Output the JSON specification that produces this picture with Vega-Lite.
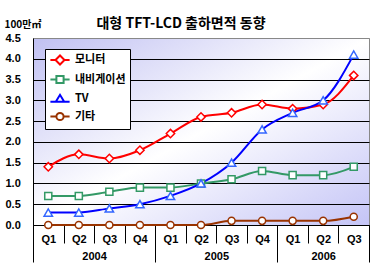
{
  "$schema": "https://vega.github.io/schema/vega-lite/v6.json",
  "autosize": "none",
  "width": 336,
  "height": 187,
  "padding": {"left": 33, "top": 38, "right": 16, "bottom": 45},
  "background": "white",
  "title": {"text": "대형 TFT-LCD 출하면적 동향", "fontSize": 14, "fontWeight": "bold", "font": "Noto Sans CJK KR", "color": "black", "offset": 10, "dx": -20, "dy": 22},
  "config": {
    "view": {"stroke": "#888888", "strokeWidth": 1, "fill": {"gradient": "linear", "x1": 0, "y1": 0, "x2": 1, "y2": 1, "stops": [{"offset": 0, "color": "#c0c0f2"}, {"offset": 0.5, "color": "#ffffff"}, {"offset": 1, "color": "#c4c4f6"}]}},
    "axis": {"labelFont": "Liberation Sans", "labelFontWeight": "bold", "labelFontSize": 11, "labelColor": "black", "titleColor": "black"}
  },
  "resolve": {"scale": {"x": "independent"}, "axis": {"x": "independent"}},
  "layer": [
    {
      "data": {"values": [
        {"q": "2004-Q1", "s": "모니터", "v": 1.4}, {"q": "2004-Q2", "s": "모니터", "v": 1.7}, {"q": "2004-Q3", "s": "모니터", "v": 1.6}, {"q": "2004-Q4", "s": "모니터", "v": 1.8},
        {"q": "2005-Q1", "s": "모니터", "v": 2.2}, {"q": "2005-Q2", "s": "모니터", "v": 2.6}, {"q": "2005-Q3", "s": "모니터", "v": 2.7}, {"q": "2005-Q4", "s": "모니터", "v": 2.9},
        {"q": "2006-Q1", "s": "모니터", "v": 2.8}, {"q": "2006-Q2", "s": "모니터", "v": 2.9}, {"q": "2006-Q3", "s": "모니터", "v": 3.6},
        {"q": "2004-Q1", "s": "내비게이션", "v": 0.7}, {"q": "2004-Q2", "s": "내비게이션", "v": 0.7}, {"q": "2004-Q3", "s": "내비게이션", "v": 0.8}, {"q": "2004-Q4", "s": "내비게이션", "v": 0.9},
        {"q": "2005-Q1", "s": "내비게이션", "v": 0.9}, {"q": "2005-Q2", "s": "내비게이션", "v": 1.0}, {"q": "2005-Q3", "s": "내비게이션", "v": 1.1}, {"q": "2005-Q4", "s": "내비게이션", "v": 1.3},
        {"q": "2006-Q1", "s": "내비게이션", "v": 1.2}, {"q": "2006-Q2", "s": "내비게이션", "v": 1.2}, {"q": "2006-Q3", "s": "내비게이션", "v": 1.4},
        {"q": "2004-Q1", "s": "TV", "v": 0.3}, {"q": "2004-Q2", "s": "TV", "v": 0.3}, {"q": "2004-Q3", "s": "TV", "v": 0.4}, {"q": "2004-Q4", "s": "TV", "v": 0.5},
        {"q": "2005-Q1", "s": "TV", "v": 0.7}, {"q": "2005-Q2", "s": "TV", "v": 1.0}, {"q": "2005-Q3", "s": "TV", "v": 1.5}, {"q": "2005-Q4", "s": "TV", "v": 2.3},
        {"q": "2006-Q1", "s": "TV", "v": 2.7}, {"q": "2006-Q2", "s": "TV", "v": 3.0}, {"q": "2006-Q3", "s": "TV", "v": 4.1},
        {"q": "2004-Q1", "s": "기타", "v": 0.0}, {"q": "2004-Q2", "s": "기타", "v": 0.0}, {"q": "2004-Q3", "s": "기타", "v": 0.0}, {"q": "2004-Q4", "s": "기타", "v": 0.0},
        {"q": "2005-Q1", "s": "기타", "v": 0.0}, {"q": "2005-Q2", "s": "기타", "v": 0.0}, {"q": "2005-Q3", "s": "기타", "v": 0.1}, {"q": "2005-Q4", "s": "기타", "v": 0.1},
        {"q": "2006-Q1", "s": "기타", "v": 0.1}, {"q": "2006-Q2", "s": "기타", "v": 0.1}, {"q": "2006-Q3", "s": "기타", "v": 0.2}
      ]},
      "encoding": {
        "x": {"field": "q", "type": "nominal", "scale": {"paddingInner": 0, "paddingOuter": 0},
          "axis": {"title": null, "labelAngle": 0, "labelExpr": "split(datum.label, '-')[1]", "tickBand": "extent", "tickSize": 18, "tickColor": "black", "domainColor": "black", "labelPadding": -10, "labelBaseline": "top", "grid": false}},
        "y": {"field": "v", "type": "quantitative", "scale": {"domain": [0, 4.5], "nice": false},
          "axis": {"values": [0, 0.5, 1, 1.5, 2, 2.5, 3, 3.5, 4, 4.5], "format": ".1f", "ticks": false, "labelAlign": "left", "labelPadding": 28, "labelBaseline": "middle",
            "grid": true, "gridColor": {"expr": "datum.value == 4.5 ? '#888888' : 'black'"}, "gridOpacity": 1, "gridWidth": 1, "domain": true, "domainColor": "black",
            "title": "100만㎡", "titleAngle": 0, "titleAlign": "left", "titleBaseline": "alphabetic", "titleX": -29, "titleY": -11, "titleFont": "Noto Sans CJK KR", "titleFontSize": 10, "titleFontWeight": "bold"}}
      },
      "layer": [
        {"mark": {"type": "line", "interpolate": "monotone", "strokeWidth": 2},
          "encoding": {"color": {"field": "s", "type": "nominal",
            "scale": {"domain": ["모니터", "내비게이션", "TV", "기타"], "range": ["#ff0000", "#339966", "#0000ff", "#993300"]},
            "legend": {"title": null, "orient": "none", "legendX": 12, "legendY": 11, "fillColor": "white", "strokeColor": "black", "padding": 4, "rowPadding": 2.5,
              "labelFont": "Noto Sans CJK KR", "labelFontSize": 11, "labelFontWeight": "bold", "labelColor": "black", "symbolSize": 144, "symbolStrokeWidth": 2, "labelOffset": 8, "symbolOffset": 4,
              "encode": {"symbols": {"update": {"fill": {"value": "white"}, "strokeWidth": {"value": 2},
                "shape": {"signal": "datum.value == '모니터' ? 'M-1.6,0H-0.75M0.75,0H1.6M-0.75,0L0,-0.75L0.75,0L0,0.75Z' : datum.value == '내비게이션' ? 'M-1.6,0H-0.6M0.6,0H1.6M-0.6,-0.6H0.6V0.6H-0.6Z' : datum.value == 'TV' ? 'M-1.6,0.45H1.6M-0.7,0.45L0,-0.7L0.7,0.45Z' : 'M-1.6,0H-0.6M0.6,0H1.6M-0.6,0A0.6,0.6 0 1,0 0.6,0A0.6,0.6 0 1,0 -0.6,0Z'"}}}}}}}},
        {"transform": [{"filter": "datum.s == '모니터'"}], "mark": {"type": "point", "shape": "diamond", "filled": false, "fill": "white", "fillOpacity": 1, "stroke": "#ff0000", "strokeWidth": 1.5, "size": 70, "opacity": 1}},
        {"transform": [{"filter": "datum.s == '내비게이션'"}], "mark": {"type": "point", "shape": "square", "filled": false, "fill": "white", "fillOpacity": 1, "stroke": "#339966", "strokeWidth": 1.5, "size": 50, "opacity": 1}},
        {"transform": [{"filter": "datum.s == 'TV'"}], "mark": {"type": "point", "shape": "triangle-up", "filled": false, "fill": "white", "fillOpacity": 1, "stroke": "#3366ff", "strokeWidth": 1.5, "size": 70, "opacity": 1}},
        {"transform": [{"filter": "datum.s == '기타'"}], "mark": {"type": "point", "shape": "circle", "filled": false, "fill": "white", "fillOpacity": 1, "stroke": "#993300", "strokeWidth": 1.5, "size": 50, "opacity": 1}}
      ]
    },
    {
      "data": {"values": [{"p": 0}, {"p": 4}, {"p": 8}, {"p": 11}]},
      "mark": {"type": "rule", "opacity": 0},
      "encoding": {"x": {"field": "p", "type": "quantitative", "scale": {"domain": [0, 11], "nice": false, "zero": false},
        "axis": {"orient": "bottom", "values": [0, 4, 8, 11], "tickSize": 37, "tickColor": "black", "labels": false, "domain": false, "grid": false, "title": null}}}
    },
    {
      "data": {"values": [{"p": 2, "yr": "2004"}, {"p": 6, "yr": "2005"}, {"p": 9.5, "yr": "2006"}]},
      "mark": {"type": "rule", "opacity": 0},
      "encoding": {"x": {"field": "p", "type": "quantitative", "scale": {"domain": [0, 11], "nice": false, "zero": false},
        "axis": {"orient": "bottom", "values": [2, 6, 9.5], "labelExpr": "datum.value == 2 ? '2004' : datum.value == 6 ? '2005' : '2006'", "ticks": false, "domain": false, "grid": false, "title": null, "labelPadding": 25, "labelBaseline": "top", "labelFontSize": 11}}}
    }
  ]
}
